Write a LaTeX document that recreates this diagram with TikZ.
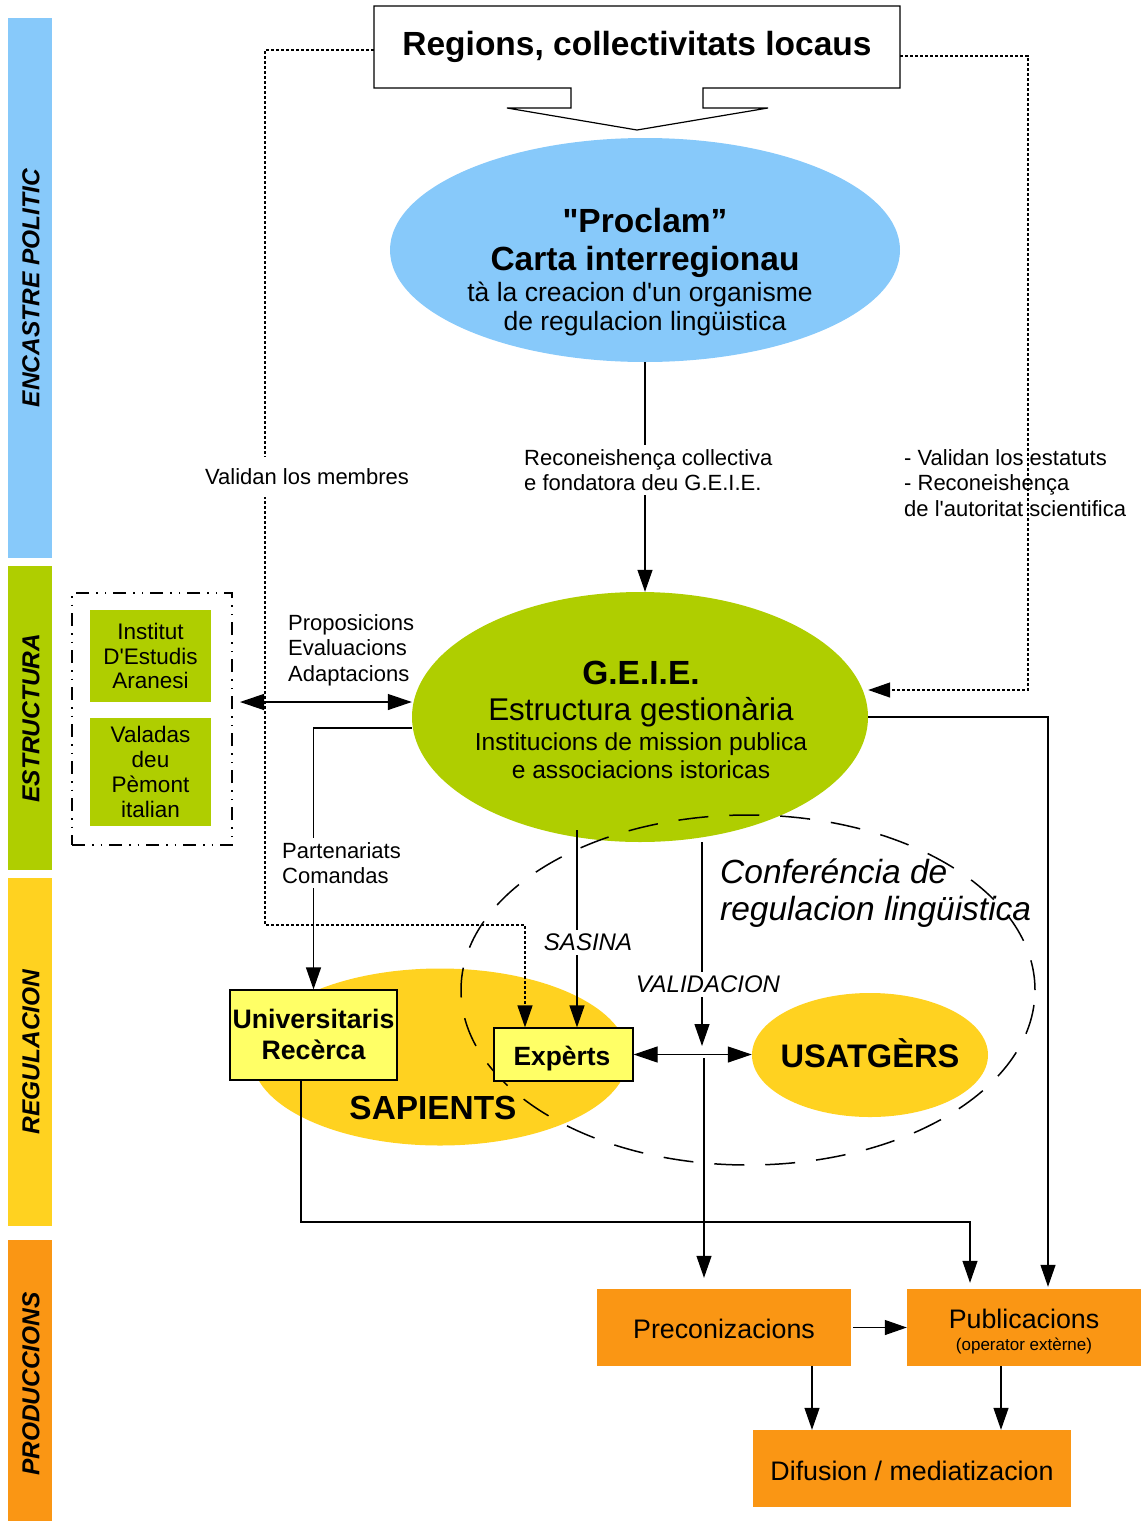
\documentclass[tikz,border=0pt]{standalone}
\usepackage{fontspec}
\setmainfont{Liberation Sans}[Ligatures=TeXOff]
\usetikzlibrary{shapes.geometric,arrows.meta,calc}
\definecolor{polblue}{RGB}{135,201,250}
\definecolor{strgreen}{RGB}{175,206,0}
\definecolor{regyellow}{RGB}{255,210,32}
\definecolor{prodorange}{RGB}{250,150,20}
\definecolor{boxyellow}{RGB}{255,255,102}
\newcommand\fsz[1]{\fontsize{#1}{#1}\selectfont}
\tikzset{
  arr/.style={-{Triangle[length=22pt,width=15pt]}, line width=1.2pt},
  dblarr/.style={{Triangle[length=24pt,width=16pt]}-{Triangle[length=24pt,width=16pt]}, line width=1.2pt},
  dotline/.style={line width=1.3pt, dash pattern=on 3pt off 2pt},
  lbl/.style={font=\fontsize{22}{25.5}\selectfont, align=left, inner sep=0pt},
  hidelbl/.style={lbl, fill=white, inner xsep=2pt, inner ysep=4pt},
  bandlabel/.style={rotate=90, font=\bfseries\itshape\fsz{24.5}},
  blob/.style={ellipse, inner sep=0pt},
  prodbox/.style={rectangle, fill=prodorange, inner sep=0pt},
  yelbox/.style={rectangle, draw=black, line width=1.2pt, fill=boxyellow, inner sep=0pt},
  grnbox/.style={rectangle, fill=strgreen, inner sep=0pt, align=center, font=\fontsize{22.5}{24.8}\selectfont},
  txt/.style={anchor=base, inner sep=0pt},
}
\begin{document}
\begin{tikzpicture}[x=1pt,y=-1pt]
\useasboundingbox (0,0) rectangle (1141,1521);

% side bands
\fill[polblue] (8,18) rectangle (52,558);
\fill[strgreen] (8,566) rectangle (52,870);
\fill[regyellow] (8,878) rectangle (52,1226);
\fill[prodorange] (8,1240) rectangle (52,1521);
\node[bandlabel] (bandpol) at (31,288) {ENCASTRE POLITIC};
\node[bandlabel] (bandstr) at (31,718) {ESTRUCTURA};
\node[bandlabel] (bandreg) at (31,1052) {REGULACION};
\node[bandlabel] (bandprod) at (31,1384) {PRODUCCIONS};

% callout box with its downward arrow
\draw[line width=1.2pt, fill=white] (374,6) -- (900,6) -- (900,88) -- (703,88) -- (703,108)
  -- (768,108) -- (637,130) -- (507,108) -- (571,108) -- (571,88) -- (374,88) -- cycle;
\node[minimum width=526pt, minimum height=82pt, inner sep=0pt, font=\bfseries\fsz{33.5}] (regions) at (637,47) {Regions, collectivitats locaus};

% filled ellipses
\node[blob, fill=polblue, minimum width=510pt, minimum height=224pt] (proclam) at (645,250) {};
\node[blob, fill=strgreen, minimum width=456pt, minimum height=250pt] (geie) at (640,717) {};
\node[blob, fill=regyellow, minimum width=376pt, minimum height=177pt] (sapients) at (440,1057) {};
\node[blob, fill=regyellow, minimum width=236pt, minimum height=124pt] (usat) at (870,1055) {};

% conference boundary
\node[blob, draw, line width=1.5pt, dash pattern=on 30pt off 21pt, minimum width=574pt, minimum height=350pt] (conf) at (748,990) {};

% structure group
\node[draw, line width=1.2pt, dash pattern=on 13pt off 7pt on 1.5pt off 7pt on 1.5pt off 7pt,
      minimum width=160pt, minimum height=252pt, inner sep=0pt] (estr) at (152,719) {};
\node[grnbox, minimum width=121pt, minimum height=92pt] (ieda) at (150.5,656) {Institut\\D'Estudis\\Aranesi};
\node[grnbox, minimum width=121pt, minimum height=108pt] (valadas) at (150.5,772) {Valadas\\deu\\Pèmont\\italian};

% regulation boxes
\node[yelbox, minimum width=167pt, minimum height=90pt] (univ) at (313.5,1035) {};
\node[yelbox, minimum width=139pt, minimum height=53pt] (experts) at (563.5,1054.5) {};

% production boxes
\node[prodbox, minimum width=254pt, minimum height=77pt] (prec) at (724,1327.5) {};
\node[prodbox, minimum width=234pt, minimum height=77pt] (pub) at (1024,1327.5) {};
\node[prodbox, minimum width=318pt, minimum height=77pt] (dif) at (912,1468.5) {};

% coordinates for connector bends and free ends
\coordinate (dl) at (265,925);
\coordinate (dr) at (1028,690);
\coordinate (pa) at (240,702);
\coordinate (sas) at (577,830);
\coordinate (val) at (702,842);
\coordinate (vx) at (702,1046);
\coordinate (vdown) at (704,1058);
\coordinate (ub) at (301,1222);

% dotted validation links
\draw[dotline, arr, line width=1.3pt] ([yshift=-3pt]regions.west) -| (dl) -| ([xshift=-38.5pt]experts.north);
\draw[dotline, arr, line width=1.3pt] ([yshift=-9pt]regions.east) -| (dr) -- (dr -| geie.east);

% solid connectors
\draw[arr] (proclam.south) -- (proclam.south |- geie.north);
\draw[dblarr] (pa) -- (pa -| geie.west);
\draw[arr] ([yshift=-11pt]geie.west) -| (univ.north);
\draw[arr] (sas) -- (sas |- experts.north);
\draw[arr] (val) -- (vx);
\draw[dblarr] (experts.east) -- (experts.east -| usat.west);
\draw[arr, shorten >=11pt] (vdown) -- (vdown |- prec.north);
\draw[arr, shorten >=6pt] (univ.south -| ub) -- (ub) -| ([xshift=-54pt]pub.north);
\draw[arr, shorten >=2pt] (geie.east) -| ([xshift=24pt]pub.north);
\draw[arr, shorten <=2pt] (prec.east) -- (pub.west);
\draw[arr] ([xshift=88pt]prec.south) -- ([xshift=88pt]prec.south |- dif.north);
\draw[arr] ([xshift=-23pt]pub.south) -- ([xshift=-23pt]pub.south |- dif.north);

% connector labels
\node[hidelbl, inner ysep=12pt] (lmembres) at (307,477) {Validan los membres};
\node[hidelbl, anchor=west] (lrecon) at (522,470) {Reconeishença collectiva\\e fondatora deu G.E.I.E.};
\node[lbl, anchor=west] (lestat) at (904,483) {- Validan los estatuts\\- Reconeishença\\de l'autoritat scientifica};
\node[lbl, anchor=west] (lprop) at (288,650) {Proposicions\\Evaluacions\\Adaptacions};
\node[hidelbl, anchor=west] (lpart) at (280,863) {Partenariats\\Comandas};
\node[hidelbl, font=\itshape\fsz{24}] (lsasina) at (588,942) {SASINA};
\node[hidelbl, font=\itshape\fsz{24}] (lvalid) at (708,984) {VALIDACION};

% texts of the ellipses
\node[txt, font=\bfseries\fsz{33.5}] (procl1) at (645,232) {"Proclam”};
\node[txt, font=\bfseries\fsz{33.5}] (procl2) at (645,270) {Carta interregionau};
\node[txt, font=\fsz{26.5}] (procl3) at (640,301.5) {tà la creacion d'un organisme};
\node[txt, font=\fsz{26.5}] (procl4) at (645,330.5) {de regulacion lingüistica};

\node[txt, font=\bfseries\fsz{33.5}] (geie1) at (641,684) {G.E.I.E.};
\node[txt, font=\fsz{31.4}] (geie2) at (641,720) {Estructura gestionària};
\node[txt, font=\fsz{24.6}] (geie3) at (641,750) {Institucions de mission publica};
\node[txt, font=\fsz{24.6}] (geie4) at (641,778) {e associacions istoricas};

\node[txt, anchor=base west, font=\itshape\fsz{33.5}] (conf1) at (720,883) {Conferéncia de};
\node[txt, anchor=base west, font=\itshape\fsz{33.5}] (conf2) at (720,920) {regulacion lingüistica};

\node[txt, font=\bfseries\fsz{33.4}] (sapt) at (433,1119) {SAPIENTS};
\node[txt, font=\bfseries\fsz{32.6}] (usatt) at (870,1067) {USATGÈRS};
\node[txt, font=\bfseries\fsz{26.7}] (univ1) at (313.5,1028) {Universitaris};
\node[txt, font=\bfseries\fsz{26.7}] (univ2) at (313.5,1059) {Recèrca};
\node[txt, font=\bfseries\fsz{26.4}] (expt) at (562,1065) {Expèrts};

\node[txt, font=\fsz{26.8}] (prect) at (724,1338) {Preconizacions};
\node[txt, font=\fsz{26.8}] (pub1) at (1024,1328) {Publicacions};
\node[txt, font=\fsz{17}] (pub2) at (1024,1350) {(operator extèrne)};
\node[txt, font=\fsz{26.8}] (dift) at (912,1480) {Difusion / mediatizacion};
\end{tikzpicture}
\end{document}
